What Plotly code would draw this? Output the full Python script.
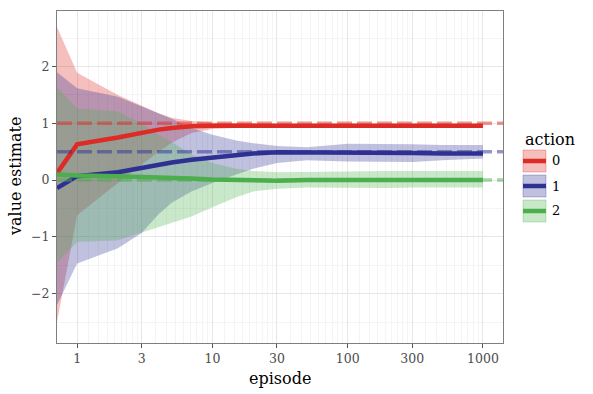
import numpy as np
import plotly.graph_objects as go

# episodes sampled along the log axis
episode = [0.71, 1, 2, 3, 4, 5, 7, 10, 15, 20, 30, 50, 100, 200, 300, 500, 1000]

## action 0
mean_0 = [0.12, 0.63, 0.75, 0.84, 0.89, 0.92, 0.95, 0.96, 0.96, 0.96, 0.97, 0.96, 0.96, 0.96, 0.96, 0.96, 0.96]
upper_0 = [2.70, 1.89, 1.50, 1.31, 1.18, 1.10, 1.04, 1.01, 1.00, 0.99, 0.99, 0.99, 0.99, 0.99, 0.99, 0.99, 0.99]
lower_0 = [-2.50, -0.62, -0.05, 0.28, 0.50, 0.66, 0.83, 0.90, 0.92, 0.93, 0.93, 0.93, 0.93, 0.93, 0.93, 0.93, 0.93]

## action 1
mean_1 = [-0.14, 0.07, 0.14, 0.22, 0.27, 0.31, 0.36, 0.40, 0.44, 0.47, 0.49, 0.49, 0.49, 0.48, 0.48, 0.47, 0.47]
upper_1 = [1.90, 1.62, 1.47, 1.30, 1.18, 1.08, 0.92, 0.80, 0.70, 0.65, 0.60, 0.58, 0.64, 0.64, 0.63, 0.62, 0.62]
lower_1 = [-2.20, -1.47, -1.20, -0.93, -0.60, -0.40, -0.20, -0.05, 0.10, 0.20, 0.30, 0.35, 0.33, 0.32, 0.32, 0.35, 0.38]

## action 2
mean_2 = [0.10, 0.08, 0.07, 0.06, 0.05, 0.04, 0.03, 0.01, 0.00, 0.00, -0.01, 0.00, 0.00, 0.00, 0.00, 0.00, 0.00]
upper_2 = [1.64, 1.26, 1.21, 1.00, 0.80, 0.67, 0.45, 0.30, 0.20, 0.16, 0.14, 0.14, 0.15, 0.16, 0.16, 0.16, 0.16]
lower_2 = [-1.45, -1.09, -1.06, -0.92, -0.82, -0.75, -0.64, -0.48, -0.30, -0.20, -0.15, -0.13, -0.14, -0.14, -0.13, -0.13, -0.13]

actions = ["0", "1", "2"]
true_values = [1.0, 0.5, 0.0]
x_ticks = [1, 3, 10, 30, 100, 300, 1000]
y_ticks = [-2, -1, 0, 1, 2]

line_colors = ["#dd2c25", "#2e3192", "#4cae4c"]
fill_colors = ["rgba(221,44,37,0.3)", "rgba(46,49,146,0.3)", "rgba(76,174,76,0.3)"]
dash_colors = ["rgba(221,44,37,0.5)", "rgba(46,49,146,0.5)", "rgba(76,174,76,0.5)"]

means = [mean_0, mean_1, mean_2]
uppers = [upper_0, upper_1, upper_2]
lowers = [lower_0, lower_1, lower_2]

FONT = "DejaVu Serif, Liberation Serif, serif"

fig = go.Figure()

## ribbons first, in group order
for i in range(3):
    fig.add_trace(go.Scatter(x=episode, y=lowers[i], mode='lines', line=dict(width=0),
                             showlegend=False, hoverinfo='skip'))
    fig.add_trace(go.Scatter(x=episode, y=uppers[i], mode='lines', line=dict(width=0),
                             fill='tonexty', fillcolor=fill_colors[i],
                             showlegend=False, hoverinfo='skip'))

## mean lines
for i in range(3):
    fig.add_trace(go.Scatter(x=episode, y=means[i], mode='lines',
                             line=dict(color=line_colors[i], width=4.5),
                             name=actions[i], showlegend=False))

## true values as dashed lines on top
for i in range(3):
    fig.add_hline(y=true_values[i], line=dict(color=dash_colors[i], width=3.5, dash="15px,5px"),
                  layer='above')

## minor x grid: linear steps between consecutive major ticks
minor_x = []
for a, b in zip(x_ticks[:-1], x_ticks[1:]):
    minor_x += list(np.linspace(a, b, 10)[1:-1])

fig.update_xaxes(type='log', range=[np.log10(0.71), np.log10(1406)],
                 tickvals=x_ticks, ticktext=[str(t) for t in x_ticks],
                 ticks='outside', ticklen=4, tickcolor='#555555',
                 tickfont=dict(family=FONT, size=12.5, color='#4d4d4d'),
                 showgrid=True, gridcolor='#e6e6e6', gridwidth=1,
                 minor=dict(tickvals=minor_x, showgrid=True, gridcolor='#f4f4f4', gridwidth=1, ticks=''),
                 showline=True, linecolor='#7f7f7f', linewidth=1, mirror=True, zeroline=False)
fig.update_yaxes(range=[-2.87, 2.98], tickvals=y_ticks,
                 ticks='outside', ticklen=4, tickcolor='#555555',
                 tickfont=dict(family=FONT, size=12.5, color='#4d4d4d'),
                 showgrid=True, gridcolor='#e6e6e6', gridwidth=1,
                 minor=dict(dtick=0.5, showgrid=True, gridcolor='#f4f4f4', gridwidth=1, ticks=''),
                 showline=True, linecolor='#7f7f7f', linewidth=1, mirror=True, zeroline=False)

## plot area in pixels: x 57..503, y 11..343
L, R, T, B = 57, 503, 11, 343
W, H = R - L, B - T
def px(x):
    return (x - L) / W
def py(y):
    return (B - y) / H

annotations = [
    dict(text="episode", x=px(280), y=py(378), xref='paper', yref='paper', showarrow=False,
         font=dict(family=FONT, size=16, color='black'), xanchor='center', yanchor='middle'),
    dict(text="value estimate", x=px(15), y=py(177), xref='paper', yref='paper', showarrow=False,
         textangle=-90, font=dict(family=FONT, size=16, color='black'), xanchor='center', yanchor='middle'),
    dict(text="action", x=px(523), y=py(140), xref='paper', yref='paper', showarrow=False,
         font=dict(family=FONT, size=16, color='black'), xanchor='left', yanchor='middle'),
]

## legend drawn by hand to mimic the ggplot keys
shapes = []
key_top = [150, 175, 200]
for i in range(3):
    t = key_top[i]
    shapes.append(dict(type='rect', xref='paper', yref='paper',
                       x0=px(523), x1=px(546), y0=py(t + 22), y1=py(t),
                       fillcolor=fill_colors[i], line=dict(color=fill_colors[i], width=1)))
    shapes.append(dict(type='line', xref='paper', yref='paper',
                       x0=px(523), x1=px(546), y0=py(t + 11), y1=py(t + 11),
                       line=dict(color=line_colors[i], width=4.5)))
    annotations.append(dict(text=actions[i], x=px(550), y=py(t + 11), xref='paper', yref='paper',
                            showarrow=False, xanchor='left', yanchor='middle',
                            font=dict(family=FONT, size=13, color='black')))

fig.update_layout(width=593, height=394, margin=dict(l=L, r=593 - R, t=T, b=394 - B),
                  plot_bgcolor='white', paper_bgcolor='white',
                  font=dict(family=FONT), showlegend=False,
                  annotations=annotations)
for s in shapes:
    fig.add_shape(**s)

# page body has a default 8px margin, drop it so the figure sits at the corner
fig.write_html("out.html", config={'displayModeBar': False},
               post_script="document.body.style.margin='0';")
